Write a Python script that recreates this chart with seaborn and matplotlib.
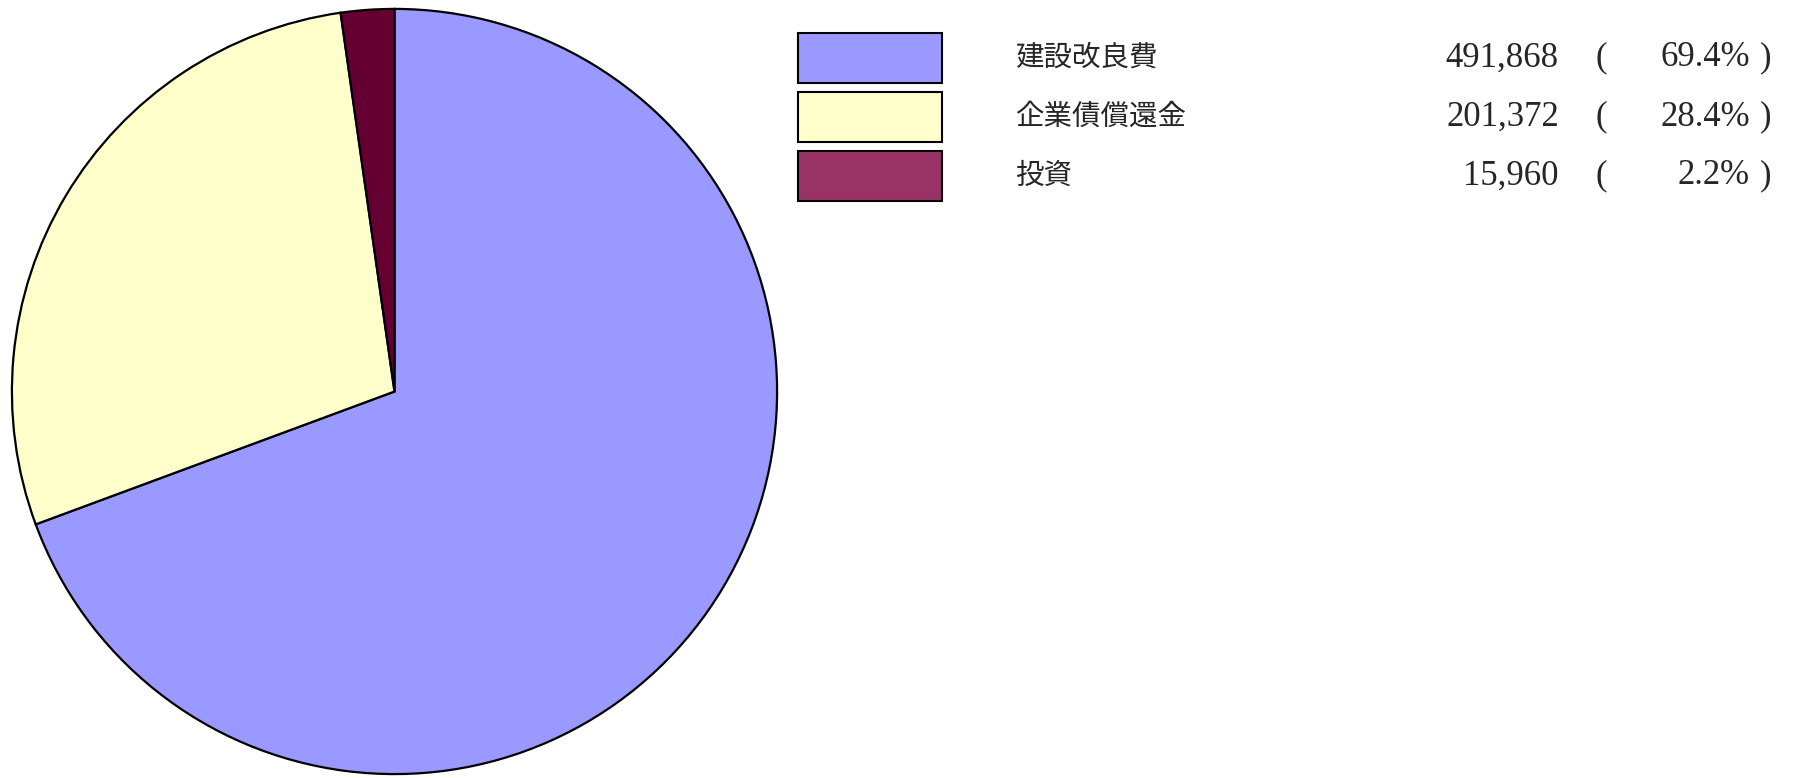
import matplotlib
matplotlib.use("Agg")
import matplotlib.pyplot as plt
import matplotlib.patches as mpatches
import seaborn as sns

categories = ["建設改良費", "企業債償還金", "投資"]
values = [491868, 201372, 15960]
percents = [69.4, 28.4, 2.2]
pie_colors = ["#9999FF", "#FFFFCC", "#660033"]
legend_colors = ["#9999FF", "#FFFFCC", "#993366"]

sns.set_theme(style="white")
plt.rcParams['font.family'] = ['Noto Sans CJK JP', 'DejaVu Sans']

W, H = 1797, 778
fig = plt.figure(figsize=(W / 100, H / 100), dpi=100)
fig.patch.set_facecolor("white")

cx, cy, r = 394.5, 391.5, 384.5
ax = fig.add_axes([(cx - r) / W, (H - cy - r) / H, 2 * r / W, 2 * r / H])
ax.pie(values, colors=pie_colors, startangle=90, counterclock=False,
       wedgeprops=dict(edgecolor="black", linewidth=1.6))
ax.set_xlim(-1.005, 1.005)
ax.set_ylim(-1.005, 1.005)
ax.set_aspect("equal")
ax.axis("off")

serif = ['Liberation Serif', 'DejaVu Serif']
box_tops = [33, 92, 151]
box_h = 50
for i, (cat, v, p, c) in enumerate(zip(categories, values, percents, legend_colors)):
    top = box_tops[i]
    rect = mpatches.Rectangle((798 / W, (H - top - box_h) / H), 144 / W, box_h / H,
                              transform=fig.transFigure, facecolor=c,
                              edgecolor="black", linewidth=1.5)
    fig.patches.append(rect)
    ymid = (H - top - box_h / 2) / H
    fig.text(1015 / W, ymid, cat, fontsize=20.5, va="center", ha="left")
    fig.text(1559 / W, ymid, f"{v:,}", fontsize=25, va="center", ha="right",
             family=serif)
    fig.text(1601 / W, ymid, "(", fontsize=25, va="center", ha="center",
             family=serif)
    fig.text(1750 / W, ymid, f"{p:.1f}%", fontsize=25, va="center", ha="right",
             family=serif)
    fig.text(1766 / W, ymid, ")", fontsize=25, va="center", ha="center",
             family=serif)

fig.savefig("out.png", dpi=100, facecolor="white")
